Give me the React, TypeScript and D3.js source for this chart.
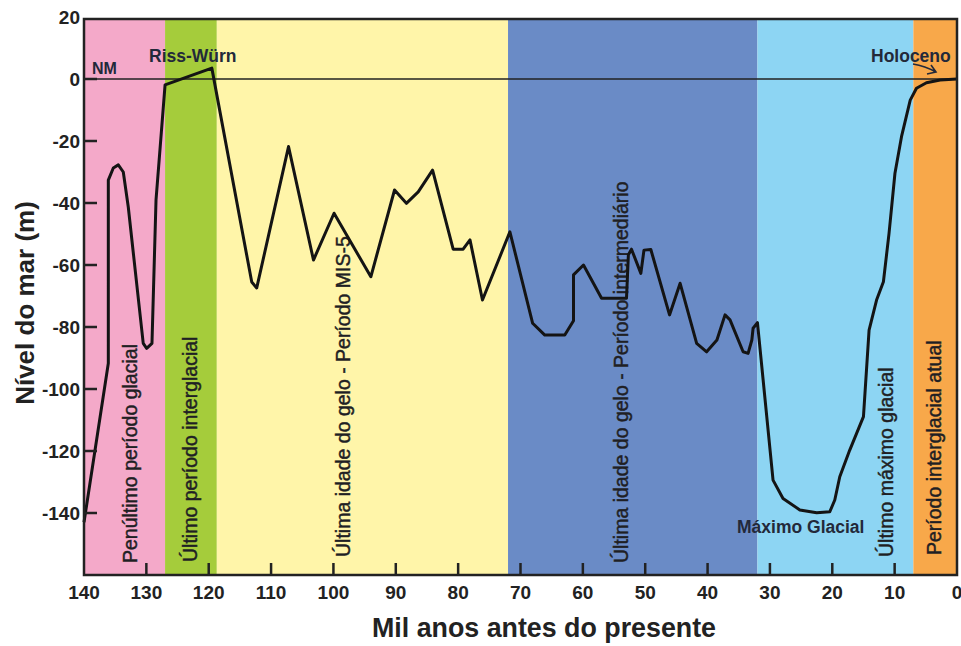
import React from "react";
import * as d3 from "d3";

// ---- data ----
const ages = [
  140, 136.1, 136.1, 135.3, 134.5, 133.7, 132.9, 130.5, 129.95, 129.1, 128.45, 127.0,
  119.5, 113.1, 112.3, 107.2, 103.2, 99.9, 94.0, 90.2, 88.3, 86.4, 84.1, 80.8, 79.2,
  78.1, 76.1, 71.7, 68.05, 66.1, 62.9, 61.5, 61.5, 59.9, 57.0, 53.0, 52.7, 52.2, 50.7,
  50.2, 49.1, 46.1, 44.4, 41.75, 40.15, 38.5, 37.2, 36.4, 34.3, 33.5, 32.9, 32.7, 32.0,
  29.5, 27.9, 25.2, 22.5, 20.4, 19.6, 18.8, 17.2, 15.0, 14.1, 12.9, 11.8, 10.9, 9.95,
  8.9, 7.5, 6.5, 4.9, 2.7, 0,
];
const levels = [
  -143, -91.7, -32.6, -28.7, -27.7, -30, -41.3, -85.3, -86.9, -85.3, -39, -1.9,
  3.5, -65.5, -67.4, -21.8, -58.4, -43.3, -63.8, -35.8, -40.1, -36.4, -29.4, -54.9, -54.9,
  -51.9, -71.3, -49.3, -78.8, -82.6, -82.6, -78, -63.2, -60, -70.7, -70.7, -56.7, -54.9, -62.7,
  -55.2, -55, -76.1, -65.9, -85.3, -88, -84.2, -76.1, -77.7, -88, -88.5, -84.2, -80.4, -78.6,
  -129.4, -135.3, -139, -139.9, -139.6, -135.8, -128.3, -119.7, -108.9, -81, -71.3, -65.4, -49.8, -30.4,
  -18.6, -6.8, -3, -1.2, -0.3, 0,
];

const periodStarts = [140, 127, 118.7, 72, 32, 7];
const periodEnds = [127, 118.7, 72, 32, 7, 0];
const periodLabels = [
  "Penúltimo período glacial",
  "Último período interglacial",
  "Última idade do gelo - Período MIS-5",
  "Última idade do gelo - Período intermediário",
  "Último máximo glacial",
  "Período interglacial atual",
];

const xTickValues = [140, 130, 120, 110, 100, 90, 80, 70, 60, 50, 40, 30, 20, 10, 0];
const yTickValues = [20, 0, -20, -40, -60, -80, -100, -120, -140];

const xTitle = "Mil anos antes do presente";
const yTitle = "Nível do mar (m)";

// ---- styles ----
const periodColors = ["#f4a9c9", "#a5cc3b", "#fff5a9", "#6a8bc6", "#8dd5f3", "#f8a84a"];
const labelBaselineX = [136.5, 197, 349.5, 627.5, 892.5, 941];
const labelBottomY = [563, 562, 557, 563, 557, 555];
const FONT = "'Liberation Sans', Arial, Helvetica, sans-serif";
const INK = "#1f1f24";

export default function App() {
  const W = 961;
  const H = 646;
  const x = d3.scaleLinear().domain([140, 0]).range([84, 957]);
  const y = d3.scaleLinear().domain([-160, 20]).range([575, 17]);
  const top = 19;
  const bottom = 575;
  const left = 84;
  const right = 957;

  const pts: [number, number][] = ages.map((a, i) => [a, levels[i]]);
  const line = d3
    .line<[number, number]>()
    .x((d) => x(d[0]))
    .y((d) => y(d[1]))
    .curve(d3.curveLinear);

  return (
    <svg
      width={W}
      height={H}
      style={{ position: "absolute", left: 0, top: 0, background: "#fff" }}
      fontFamily={FONT}
    >
      <rect x={0} y={0} width={W} height={H} fill="#fff" />
      {periodStarts.map((s, i) => (
        <rect
          key={"b" + i}
          x={x(s)}
          y={top}
          width={x(periodEnds[i]) - x(s)}
          height={bottom - top}
          fill={periodColors[i]}
        />
      ))}
      {periodLabels.map((t, i) => (
        <text
          key={"pl" + i}
          transform={`translate(${labelBaselineX[i]},${labelBottomY[i]}) rotate(-90)`}
          fontSize={19.5}
          fill={INK}
          stroke={INK}
          strokeWidth={0.45}
        >
          {t}
        </text>
      ))}
      {/* NM line */}
      <line x1={left} x2={right} y1={y(0)} y2={y(0)} stroke="#222" strokeWidth={1.6} />
      {/* curve */}
      <path d={line(pts) || ""} fill="none" stroke="#141414" strokeWidth={3} strokeLinejoin="round" />
      {/* frame */}
      <rect x={left} y={top} width={right - left} height={bottom - top} fill="none" stroke="#222" strokeWidth={2.5} />
      {/* x ticks */}
      {xTickValues.map((v) => (
        <g key={"xt" + v}>
          {v !== 140 && v !== 0 && (
            <line x1={x(v)} x2={x(v)} y1={bottom} y2={bottom - 12} stroke="#222" strokeWidth={2.5} />
          )}
          <text x={x(v)} y={599} textAnchor="middle" fontSize={19} fontWeight="bold" fill="#222">
            {v}
          </text>
        </g>
      ))}
      {/* y ticks */}
      {yTickValues.map((v) => (
        <g key={"yt" + v}>
          {v !== 20 && (
            <line x1={left} x2={left + 13} y1={y(v)} y2={y(v)} stroke="#222" strokeWidth={2.5} />
          )}
          <text x={80} y={y(v)} dy="0.36em" textAnchor="end" fontSize={19} fontWeight="bold" fill="#222">
            {v}
          </text>
        </g>
      ))}
      {/* axis titles */}
      <text x={544} y={637} textAnchor="middle" fontSize={26.8} fontWeight="bold" fill="#222">
        {xTitle}
      </text>
      <text
        transform={`translate(34,303) rotate(-90)`}
        textAnchor="middle"
        fontSize={26}
        fontWeight="bold"
        fill="#222"
      >
        {yTitle}
      </text>
      {/* annotations */}
      <text x={92} y={74} fontSize={16} fontWeight="bold" fill="#23293a">NM</text>
      <text x={149} y={62} fontSize={17.5} fontWeight="bold" fill="#23293a">Riss-Würn</text>
      <text x={871} y={62} fontSize={17.5} fontWeight="bold" fill="#23293a">Holoceno</text>
      <path d="M913,64 Q925,66 936,72 M927,74 L936,72 L931,65" fill="none" stroke="#23293a" strokeWidth={1.6} />
      <text x={737} y={533} fontSize={17.5} fontWeight="bold" fill="#23293a">Máximo Glacial</text>
    </svg>
  );
}
